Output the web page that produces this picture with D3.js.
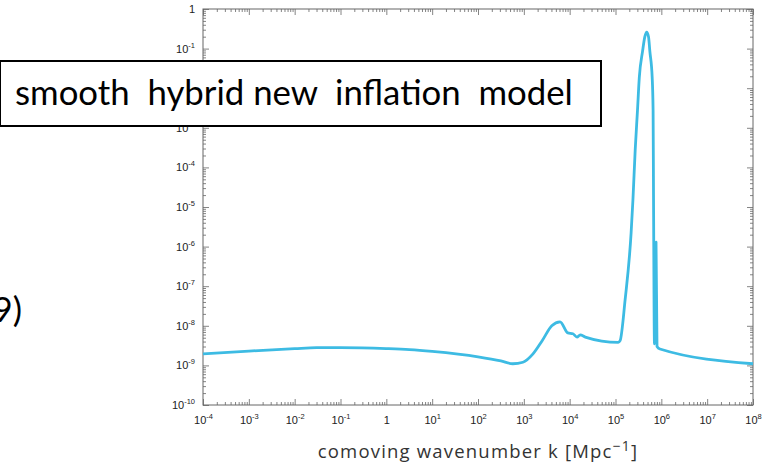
<!DOCTYPE html>
<html><head><meta charset="utf-8">
<script src="https://cdn.jsdelivr.net/npm/d3@7"></script>
<style>body{margin:0;background:#fff}svg{display:block}</style>
</head><body>
<svg id="c" width="769" height="470"></svg>
<script>
// ---- data ----
const kValues = [1e-4, 1e-3, 1e-2, 3e-2, 1e-1, 1, 3.2, 10, 100, 316, 575, 955, 1585, 2512, 4074, 6166, 9120, 11750, 14450, 17000, 21900,
  115000, 126000, 162000, 219000, 240000, 269000, 302000, 331000, 389000, 437000, 479000, 525000, 562000,
  631000, 661000, 676000, 708000, 766000, 805000, 933000, 1e8];
const pValues = [1.95e-9, 2.3e-9, 2.65e-9, 2.8e-9, 2.8e-9, 2.65e-9, 2.5e-9, 2.25e-9, 1.65e-9, 1.3e-9, 1.1e-9, 1.2e-9, 1.95e-9, 4.2e-9, 1e-8, 1.26e-8, 6.6e-9, 6.3e-9, 5.2e-9, 5.9e-9, 5.2e-9,
  3.8e-9, 4.2e-9, 4.5e-8, 2.2e-6, 1.5e-5, 2.75e-4, 2.8e-3, 1.9e-2, 0.085, 0.2, 0.26, 0.2, 0.085,
  1.9e-2, 2.8e-3, 1.5e-5, 3.5e-9, 1.3e-6, 3e-9, 2.6e-9, 1.1e-9];
const xTickExps = [-4, -3, -2, -1, 0, 1, 2, 3, 4, 5, 6, 7, 8];
const yTickExps = [0, -1, -2, -3, -4, -5, -6, -7, -8, -9, -10];
const xTitle = "comoving wavenumber k [Mpc";
const xTitleSup = "\u22121";
const boxText = "smooth\u00a0 hybrid new\u00a0 inflation\u00a0 model";
const cutText = "9)";

const svg = d3.select("#c");
const L = 203, R = 753, T = 9, B = 405;
const x = d3.scaleLog().domain([1e-4, 1e8]).range([L, R]);
const y = d3.scaleLog().domain([1e-10, 1]).range([B, T]);

function minors(lo, hi) {
  const out = [];
  for (let e = lo; e < hi; e++) for (let m = 2; m <= 9; m++) out.push(m * Math.pow(10, e));
  return out;
}
const xMinor = minors(-4, 8), yMinor = minors(-10, 0);
const xMajor = xTickExps.map(e => Math.pow(10, e));
const yMajor = yTickExps.map(e => Math.pow(10, e));
const axisColor = "#666";

function styleAxis(g) {
  g.select(".domain").remove();
  g.selectAll(".tick line").attr("stroke", axisColor).attr("stroke-width", 0.8);
}
function supLabel(sel) {
  sel.selectAll(".tick text").each(function(d) {
    const e = Math.round(Math.log10(d));
    const t = d3.select(this).text(null)
      .attr("font-family", "Liberation Sans, Arial, sans-serif").attr("font-size", 11).attr("fill", "#222");
    if (e === 0) { t.append("tspan").text("1"); }
    else {
      t.append("tspan").text("10");
      t.append("tspan").attr("font-size", 7.5).attr("dy", -5).text(e);
    }
  });
}
// minor ticks
svg.append("g").attr("transform", `translate(0,${B})`)
  .call(d3.axisBottom(x).tickValues(xMinor).tickSize(-3).tickFormat(() => "")).call(styleAxis);
svg.append("g").attr("transform", `translate(0,${T})`)
  .call(d3.axisTop(x).tickValues(xMinor).tickSize(-3).tickFormat(() => "")).call(styleAxis);
svg.append("g").attr("transform", `translate(${L},0)`)
  .call(d3.axisLeft(y).tickValues(yMinor).tickSize(-3).tickFormat(() => "")).call(styleAxis);
svg.append("g").attr("transform", `translate(${R},0)`)
  .call(d3.axisRight(y).tickValues(yMinor).tickSize(-3).tickFormat(() => "")).call(styleAxis);
// major ticks
const gxB = svg.append("g").attr("transform", `translate(0,${B})`)
  .call(d3.axisBottom(x).tickValues(xMajor).tickSize(-6).tickPadding(11)).call(styleAxis);
gxB.call(supLabel);
gxB.selectAll(".tick text").attr("dy", "0.71em");
svg.append("g").attr("transform", `translate(0,${T})`)
  .call(d3.axisTop(x).tickValues(xMajor).tickSize(-6).tickFormat(() => "")).call(styleAxis);
const gyL = svg.append("g").attr("transform", `translate(${L},0)`)
  .call(d3.axisLeft(y).tickValues(yMajor).tickSize(-6).tickPadding(8)).call(styleAxis);
gyL.call(supLabel);
svg.append("g").attr("transform", `translate(${R},0)`)
  .call(d3.axisRight(y).tickValues(yMajor).tickSize(-6).tickFormat(() => "")).call(styleAxis);

// frame
svg.append("rect").attr("x", L).attr("y", T).attr("width", R - L).attr("height", B - T)
  .attr("fill", "none").attr("stroke", axisColor).attr("stroke-width", 1);

// curve
const pts = kValues.map((k, i) => [k, pValues[i]]);
svg.append("path").datum(pts)
  .attr("d", d3.line().x(d => x(d[0])).y(d => y(d[1])).curve(d3.curveMonotoneX))
  .attr("fill", "none").attr("stroke", "#3dbbe3").attr("stroke-width", 2.8)
  .attr("stroke-linejoin", "round");

// x title
const tt = svg.append("text").attr("x", 478).attr("y", 458).attr("text-anchor", "middle")
  .attr("font-family", "Open Sans, sans-serif").attr("font-size", 18.5).attr("fill", "#333");
tt.append("tspan").text(xTitle);
tt.append("tspan").attr("dy", -7).attr("font-size", 14).text(xTitleSup);
tt.append("tspan").attr("dy", 7).text("]");
const tw = tt.node().getComputedTextLength();
if (tw < 323) tt.attr("letter-spacing", (323 - tw) / 31);

// annotation box
svg.append("rect").attr("x", 0).attr("y", 61).attr("width", 601).attr("height", 65)
  .attr("fill", "#fff").attr("stroke", "#000").attr("stroke-width", 2);
const bt = svg.append("text").attr("x", 15).attr("y", 105)
  .attr("font-family", "Lato, sans-serif").attr("font-size", 30).attr("fill", "#000").text(boxText);
const w = bt.node().getComputedTextLength();
bt.attr("font-size", 30 * 558 / w);

svg.append("text").attr("x", 22).attr("y", 322).attr("text-anchor", "end")
  .attr("font-family", "Lato, sans-serif").attr("font-size", bt.attr("font-size")).attr("fill", "#000").text(cutText);
</script>
</body></html>
